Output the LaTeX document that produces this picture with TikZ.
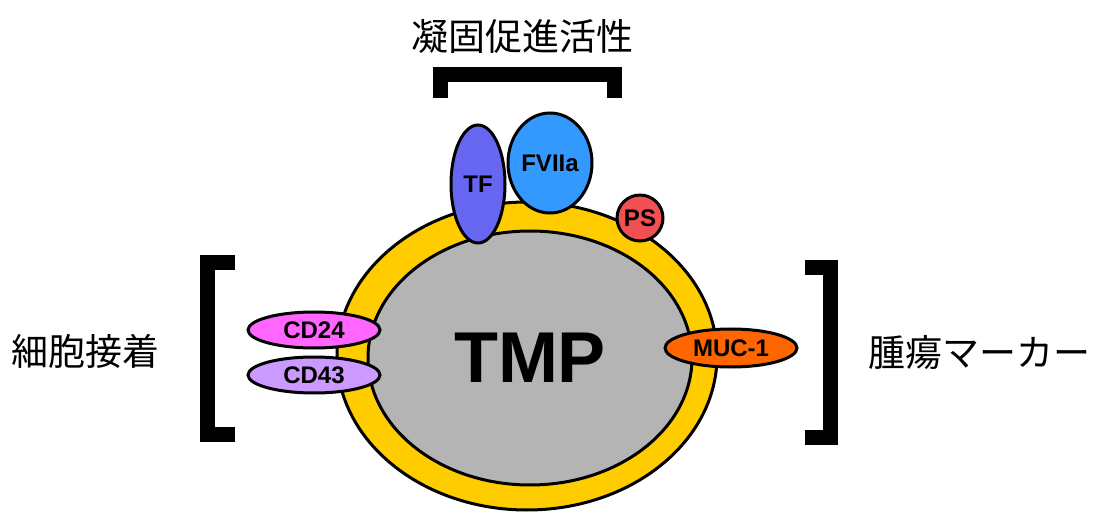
\documentclass[tikz,border=0pt]{standalone}
\usepackage{fontspec}
\setmainfont{Liberation Sans}
\newfontfamily\jpfont{Noto Sans CJK JP}
\usetikzlibrary{shapes}

\definecolor{membrane}{RGB}{255,204,0}
\definecolor{body}{RGB}{180,180,180}
\definecolor{tfblue}{RGB}{102,102,240}
\definecolor{fviia}{RGB}{51,153,255}
\definecolor{psred}{RGB}{240,80,80}
\definecolor{cdpink}{RGB}{255,102,255}
\definecolor{cdlilac}{RGB}{204,153,255}
\definecolor{mucorange}{RGB}{255,102,0}

\begin{document}
\begin{tikzpicture}[x=1pt,y=-1pt]
		\useasboundingbox (0,0) rectangle (1096,513);
		
		\tikzstyle{every node}=[font=\bfseries\fontsize{24}{24}\selectfont]
		\tikzstyle{protein}=[ellipse, draw, line width=3pt, inner sep=0pt]
		\tikzstyle{bracket}=[line width=15pt, miter limit=10]
		\tikzstyle{caption}=[font=\jpfont\fontsize{37}{37}\selectfont]
		
		% membrane and particle body
		\node[protein, fill=membrane, minimum width=380pt, minimum height=308pt] (mem) at (527,356) {};
		\node[protein, fill=body, minimum width=324pt, minimum height=254pt, font=\bfseries\fontsize{72}{72}\selectfont] (tmp) at (530,358) {TMP};
		
		% coagulation
		\node[protein, fill=tfblue, minimum width=54pt, minimum height=118pt] (tf) at (478,184) {TF};
		\node[protein, fill=fviia, minimum width=84pt, minimum height=100pt] (fviia) at (550,163) {FVIIa};
		\node[protein, circle, fill=psred, minimum size=46pt] (ps) at (640,218) {PS};
		
		% adhesion and tumour markers
		\node[protein, fill=cdpink, minimum width=132pt, minimum height=36pt] (cd24) at (314,330) {CD24};
		\node[protein, fill=cdlilac, minimum width=132pt, minimum height=36pt] (cd43) at (314,375) {CD43};
		\node[protein, fill=mucorange, minimum width=132pt, minimum height=38pt] (muc) at (731,348) {MUC-1};
		
		% brackets
		\draw[bracket] (235,263) -- (207.5,263) -- (207.5,434.5) -- (235,434.5);
		\draw[bracket] (805,267.5) -- (830.5,267.5) -- (830.5,437.5) -- (805,437.5);
		\draw[bracket] (440.5,98) -- (440.5,74.5) -- (614.5,74.5) -- (614.5,98);
		
		\node[caption] (coag) at (522,36) {凝固促進活性};
		\node[caption] (adh) at (86,351) {細胞接着};
		\node[caption] (marker) at (979,352) {腫瘍マーカー};
		
\end{tikzpicture}
\end{document}
